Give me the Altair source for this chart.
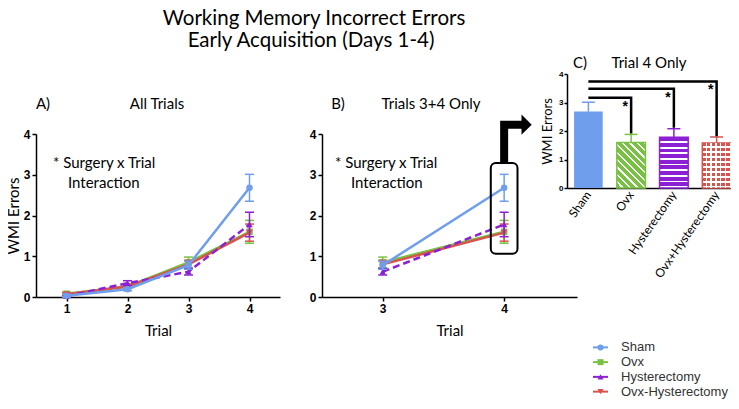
import altair as alt
import pandas as pd

# ---------------- data ----------------
groups = ["Sham", "Ovx", "Hysterectomy", "Ovx-Hysterectomy"]
group_colors = ["#6f9eec", "#79c143", "#8b21d3", "#d9534d"]
group_shapes = ["circle", "square", "triangle-up", "triangle-down"]
trials = [1, 2, 3, 4]

sham_mean = [0.03, 0.19, 0.78, 2.68]
ovx_mean = [0.08, 0.26, 0.85, 1.60]
hyst_mean = [0.02, 0.34, 0.62, 1.78]
ovxh_mean = [0.07, 0.26, 0.80, 1.58]

sham_sem = [0.03, 0.04, 0.10, 0.33]
ovx_sem = [0.04, 0.05, 0.13, 0.28]
hyst_sem = [0.03, 0.06, 0.08, 0.30]
ovxh_sem = [0.03, 0.05, 0.10, 0.21]

bar_labels = ["Sham", "Ovx", "Hysterectomy", "Ovx+Hysterectomy"]
bracket_targets = ["Ovx", "Hysterectomy", "Ovx+Hysterectomy"]
bracket_heights = [3.17, 3.48, 3.74]

title_lines = ["Working Memory Incorrect Errors", "Early Acquisition (Days 1-4)"]

# ---------------- layout / style ----------------
W, H = 723, 393
TXT = "Lato"
NUM = "Liberation Sans"
Y_LINE = [289, 126]
draw_order = ["Ovx", "Ovx-Hysterectomy", "Hysterectomy", "Sham"]

color_of = dict(zip(groups, group_colors))
shape_of = dict(zip(groups, group_shapes))

means = [sham_mean, ovx_mean, hyst_mean, ovxh_mean]
sems = [sham_sem, ovx_sem, hyst_sem, ovxh_sem]
rows = []
for g, ms, ss in zip(groups, means, sems):
    for t, m, s in zip(trials, ms, ss):
        rows.append({"group": g, "trial": t, "mean": m, "lo": m - s, "hi": m + s})
line_df = pd.DataFrame(rows)

bar_df = pd.DataFrame({
    "label": bar_labels,
    "group": groups,
    "mean": [m[-1] for m in means],
    "sem": [s[-1] for s in sems],
})
bar_df["hi"] = bar_df["mean"] + bar_df["sem"]
bar_df["base"] = 0.0
bar_color = dict(zip(bar_labels, group_colors))
bar_top = dict(zip(bar_labels, bar_df["hi"]))


def axis(**kw):
    base = dict(grid=False, domainColor="black", domainWidth=1.5, tickColor="black",
                tickWidth=1.5, labelColor="black", titleColor="black",
                titleFontWeight="normal", labelFontWeight="bold", labelFont=NUM,
                titleFont=TXT)
    base.update(kw)
    return alt.Axis(**base)


def label(text, x, y, size, align="center", font=TXT, weight="normal",
          baseline="middle", color="black"):
    return alt.Chart(pd.DataFrame({"t": [text]})).mark_text(
        align=align, baseline=baseline, font=font, fontSize=size,
        fontWeight=weight, color=color
    ).encode(text="t:N", x=alt.value(x), y=alt.value(y))


def trial_panel(xdomain, xrange, tmin, xvals, yoff, ytitle):
    xs = alt.Scale(domain=xdomain, range=xrange, nice=False, zero=False)
    ys = alt.Scale(domain=[0, 4], range=Y_LINE, nice=False, zero=False)
    ax_x = axis(orient="bottom", offset=-(H - Y_LINE[0]), values=xvals, format="d",
                title="Trial", titleFontSize=15, titlePadding=9, labelFontSize=12,
                tickSize=4, labelPadding=2)
    ykw = dict(orient="left", offset=yoff, values=[0, 1, 2, 3, 4], format="d",
               titleFontSize=15, titlePadding=2, labelFontSize=12,
               tickSize=4, labelPadding=2)
    ykw["title"] = ytitle
    ax_y = axis(**ykw)
    d = line_df[line_df.trial >= tmin]
    layers = []
    for i, g in enumerate(draw_order):
        c = color_of[g]
        gd = alt.Chart(d).transform_filter(alt.datum.group == g)
        X = alt.X("trial:Q", scale=xs, axis=ax_x if i == 0 else None)
        Xn = alt.X("trial:Q", scale=xs, axis=None)
        layers.append(gd.mark_rule(color=c, strokeWidth=1.5).encode(
            x=X, y=alt.Y("lo:Q", scale=ys, axis=ax_y if i == 0 else None), y2="hi:Q"))
        for fld in ["hi", "lo"]:
            layers.append(gd.mark_tick(color=c, orient="horizontal", size=9,
                                       thickness=1.5, opacity=1).encode(
                x=Xn, y=alt.Y(f"{fld}:Q", scale=ys, axis=None)))
        lkw = dict(color=c, strokeWidth=2.5)
        if g == "Hysterectomy":
            lkw["strokeDash"] = [7, 4]
        layers.append(gd.mark_line(**lkw).encode(
            x=Xn, y=alt.Y("mean:Q", scale=ys, axis=None)))
        layers.append(gd.mark_point(shape=shape_of[g], filled=True, size=42,
                                    color=c, opacity=1).encode(
            x=Xn, y=alt.Y("mean:Q", scale=ys, axis=None)))
    return layers, xs, ys


# ---------------- panel A ----------------
layersA, xsA, ysA = trial_panel([0.5, 4.5], [28, 272], 1, [1, 2, 3, 4], -28, "WMI Errors")

# ---------------- panel B ----------------
layersB, xsB, ysB = trial_panel([2.5, 4.6], [314, 569], 3, [3, 4], -314, None)

box_df = pd.DataFrame({"x1": [3.89], "x2": [4.11], "y1": [1.06], "y2": [3.29]})
layersB.append(alt.Chart(box_df).mark_rect(filled=False, color="black", strokeWidth=2,
                                            cornerRadius=5).encode(
    x=alt.X("x1:Q", scale=xsB, axis=None), x2="x2:Q",
    y=alt.Y("y1:Q", scale=ysB, axis=None), y2="y2:Q"))
arrow_df = pd.DataFrame({"x": [4.0, 4.0, 4.16], "y": [3.29, 4.23, 4.23], "o": [0, 1, 2]})
layersB.append(alt.Chart(arrow_df).mark_line(color="black", strokeWidth=8,
                                              strokeJoin="miter", strokeCap="butt").encode(
    x=alt.X("x:Q", scale=xsB, axis=None), y=alt.Y("y:Q", scale=ysB, axis=None),
    order="o:O"))
head_df = pd.DataFrame({"x": [4.185], "y": [4.23]})
layersB.append(alt.Chart(head_df).mark_point(shape="M-0.5,-1L0.5,0L-0.5,1Z", size=420,
                                             filled=True, color="black", opacity=1).encode(
    x=alt.X("x:Q", scale=xsB, axis=None), y=alt.Y("y:Q", scale=ysB, axis=None)))

# ---------------- panel C ----------------
xc = alt.Scale(type="band", domain=bar_labels, range=[559, 730],
               paddingInner=0.33, paddingOuter=0.165)
yc = alt.Scale(domain=[0, 4], range=[180, 66], nice=False, zero=False)
ax_cx = axis(orient="bottom", offset=-(H - 180), labelAngle=-55, labelAlign="right",
             labelBaseline="middle", labelFont=TXT, labelFontWeight="normal",
             labelFontSize=12, ticks=False, labelPadding=4, title=None)
ax_cy = axis(orient="left", offset=-559, values=[0, 1, 2, 3, 4], format="d",
             labelFontSize=8, tickSize=3, title="WMI Errors", titleFontSize=13,
             titlePadding=4, labelPadding=1)


def stripes(color, n, white, x1, y1, x2, y2, bg=None):
    bgc = bg if bg is not None else color
    stops = []
    for k in range(n):
        a, b, c = k / n, (k + 1 - white) / n, (k + 1) / n
        stops += [alt.GradientStop(offset=a, color=bgc), alt.GradientStop(offset=b, color=bgc),
                  alt.GradientStop(offset=b, color="white"), alt.GradientStop(offset=c, color="white")]
    return alt.LinearGradient(gradient="linear", stops=stops, x1=x1, y1=y1, x2=x2, y2=y2)


fills = {
    "Sham": bar_color["Sham"],
    "Ovx": stripes(bar_color["Ovx"], 10, 0.3, 0, 1, 0.735, -0.167),
    "Hysterectomy": stripes(bar_color["Hysterectomy"], 9, 0.3, 0, 0, 0, 1),
    "Ovx+Hysterectomy": stripes(bar_color["Ovx+Hysterectomy"], 9, 0.3, 0, 0, 0, 1),
}

layersC = []
for i, lab in enumerate(bar_labels):
    c = bar_color[lab]
    bd = alt.Chart(bar_df).transform_filter(alt.datum.label == lab)
    bkw = dict(fill=fills[lab])
    if lab != "Sham":
        bkw.update(stroke=c, strokeWidth=1.5)
    layersC.append(bd.mark_bar(**bkw).encode(
        x=alt.X("label:N", scale=xc, axis=ax_cx if i == 0 else None),
        y=alt.Y("mean:Q", scale=yc, axis=ax_cy if i == 0 else None), y2="base:Q"))
    if lab == "Ovx+Hysterectomy":
        layersC.append(bd.mark_bar(
            fill=stripes(c, 6, 0.3, 0, 0, 1, 0, bg="rgba(255,255,255,0)")).encode(
            x=alt.X("label:N", scale=xc, axis=None),
            y=alt.Y("mean:Q", scale=yc, axis=None), y2="base:Q"))
    layersC.append(bd.mark_rule(color=c, strokeWidth=1.5).encode(
        x=alt.X("label:N", scale=xc, axis=None),
        y=alt.Y("mean:Q", scale=yc, axis=None), y2="hi:Q"))
    layersC.append(bd.mark_tick(color=c, orient="horizontal", size=13, thickness=1.5,
                                opacity=1).encode(
        x=alt.X("label:N", scale=xc, axis=None), y=alt.Y("hi:Q", scale=yc, axis=None)))

br_rows = []
for i, (tgt, h) in enumerate(zip(bracket_targets, bracket_heights)):
    br_rows += [{"id": i, "o": 0, "label": "Sham", "y": h},
                {"id": i, "o": 1, "label": tgt, "y": h},
                {"id": i, "o": 2, "label": tgt, "y": bar_top[tgt] + 0.03}]
br_df = pd.DataFrame(br_rows)
layersC.append(alt.Chart(br_df).mark_line(color="black", strokeWidth=2.5,
                                          strokeJoin="miter").encode(
    x=alt.X("label:N", scale=xc, axis=None), y=alt.Y("y:Q", scale=yc, axis=None),
    detail="id:N", order="o:O"))
star_df = pd.DataFrame({"label": bracket_targets, "y": bracket_heights, "t": ["*"] * 3})
layersC.append(alt.Chart(star_df).mark_text(font=NUM, fontSize=14, fontWeight="bold",
                                            dx=-6, dy=9, baseline="middle").encode(
    x=alt.X("label:N", scale=xc, axis=None), y=alt.Y("y:Q", scale=yc, axis=None),
    text="t:N"))

# ---------------- legend ----------------
leg_df = pd.DataFrame({"group": groups})
ly = alt.Scale(type="point", domain=groups, range=[332, 391])
cs = alt.Scale(domain=groups, range=group_colors)
ss = alt.Scale(domain=groups, range=group_shapes)
legend_layers = [
    alt.Chart(leg_df).mark_rule(strokeWidth=2).encode(
        x=alt.value(585), x2=alt.value(600), y=alt.Y("group:N", scale=ly, axis=None),
        color=alt.Color("group:N", scale=cs, legend=None)),
    alt.Chart(leg_df).mark_point(filled=True, size=36, opacity=1).encode(
        x=alt.value(592.5), y=alt.Y("group:N", scale=ly, axis=None),
        color=alt.Color("group:N", scale=cs, legend=None),
        shape=alt.Shape("group:N", scale=ss, legend=None)),
    alt.Chart(leg_df).mark_text(align="left", baseline="middle", font=NUM, fontSize=13,
                                color="#333333").encode(
        x=alt.value(613), y=alt.Y("group:N", scale=ly, axis=None), text="group:N"),
]

# ---------------- texts ----------------
texts = [
    label(title_lines[0], 306, 17, 20.5, baseline="alphabetic"),
    label(title_lines[1], 303, 39, 20.5, baseline="alphabetic"),
    label("A)", 35, 96, 15),
    label("All Trials", 149, 96, 15),
    label("* Surgery x Trial", 45, 155, 15, align="left"),
    label("Interaction", 60, 175, 15, align="left"),
    label("B)", 330, 96, 15),
    label("Trials 3+4 Only", 423, 96, 15),
    label("* Surgery x Trial", 327, 155, 15, align="left"),
    label("Interaction", 343, 175, 15, align="left"),
    label("C)", 572, 55, 15),
    label("Trial 4 Only", 641, 55, 15),
]

chart = alt.layer(*layersA, *layersB, *layersC, *legend_layers, *texts).resolve_scale(
    x="independent", y="independent"
).properties(
    width=W, height=H, padding=0, autosize=alt.AutoSizeParams(type="none")
).configure_view(stroke=None)

chart.save("out.html", embed_options={"renderer": "svg", "actions": False})
